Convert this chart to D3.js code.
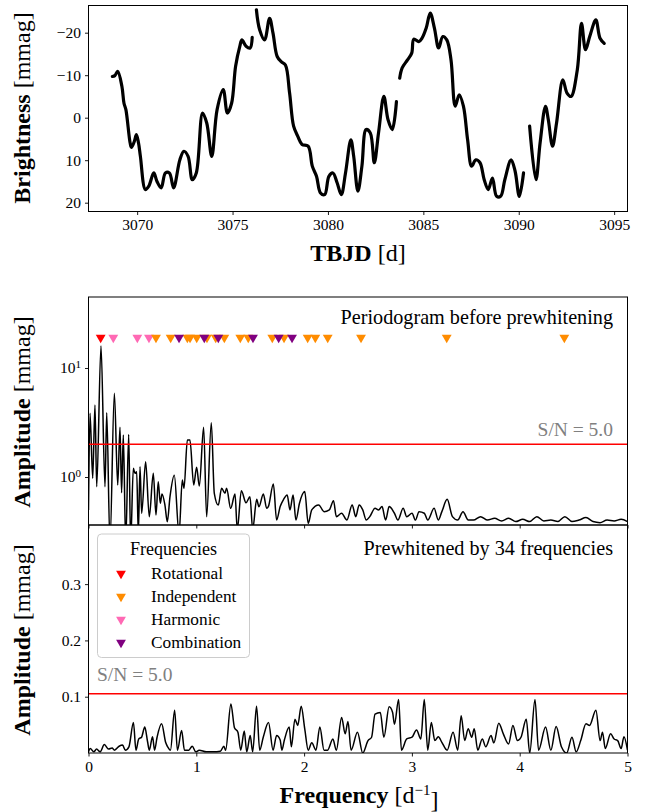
<!DOCTYPE html>
<html>
<head>
<meta charset="utf-8">
<script src="https://cdn.jsdelivr.net/npm/d3@7"></script>
<style>
  html, body { margin: 0; padding: 0; background: #fff; }
  svg { display: block; }
  text { font-family: "Liberation Serif", "Times New Roman", serif; }
</style>
</head>
<body>
<svg id="fig" width="646" height="812"></svg>
<script>
// ---- Light curve (TESS brightness in mmag, inverted axis) ----
const lcTime = [3068.70,3068.83,3068.98,3069.20,3069.31,3069.41,3069.63,3069.70,3069.85,3069.96,3070.07,3070.17,3070.43,3070.61,3070.87,3071.04,3071.26,3071.48,3071.69,3071.91,3072.24,3072.45,3072.67,3072.89,3073.10,3073.43,3073.65,3073.91,3074.19,3074.51,3074.73,3074.95,3075.16,3075.38,3075.49,3075.71,3075.92,3076.03,
  3076.25,3076.42,3076.68,3076.94,3077.12,3077.34,3077.55,3077.77,3077.99,3078.20,3078.42,3078.64,3078.96,3079.18,3079.40,3079.61,3079.83,3080.05,3080.26,3080.48,3080.70,3080.92,3081.20,3081.35,3081.57,3081.78,3082.00,3082.22,3082.43,3082.65,3082.93,3083.15,3083.37,3083.59,
  3083.76,3083.89,3084.17,3084.39,3084.50,3084.76,3084.93,3085.15,3085.36,3085.58,3085.80,3086.02,3086.23,3086.45,3086.67,3086.88,3087.10,3087.32,3087.53,3087.75,3087.97,3088.19,3088.40,3088.62,3088.84,3089.05,3089.27,3089.60,3089.81,3090.03,3090.25,
  3090.57,3090.90,3091.12,3091.40,3091.55,3091.77,3091.98,3092.31,3092.53,3092.74,3093.07,3093.29,3093.50,3093.72,3094.04,3094.26,3094.48];
const lcBrightness = [-9.7,-9.9,-10.9,-7.4,-3.4,-1.9,5.9,7.0,5.6,4.0,5.9,9.1,16.9,16.1,13.0,15.0,16.5,13.0,13.0,16.5,9.9,7.9,9.1,14.6,13.0,-1.1,1.3,9.1,-1.9,-6.6,-1.1,-3.4,-12.1,-16.8,-18.3,-16.8,-16.4,-18.9,
  -25.4,-20.7,-18.3,-23.4,-19.9,-14.4,-13.2,-12.4,-5.8,2.0,4.4,6.3,6.7,11.4,13.8,17.7,18.1,13.8,13.0,15.3,18.1,13.0,5.2,9.1,17.3,11.4,2.8,3.6,10.6,3.6,-5.0,0.5,2.8,-3.8,
  -9.3,-11.7,-13.6,-15.2,-18.5,-17.9,-18.7,-21.1,-24.6,-21.1,-16.4,-19.1,-18.3,-13.6,-2.7,-5.4,-2.7,5.2,11.4,9.9,10.6,14.6,16.9,14.2,18.5,18.5,14.6,9.9,12.6,18.5,13.0,
  2.0,14.6,5.9,-2.7,0.5,6.7,1.3,-8.9,-5.8,-5.0,-11.3,-22.2,-16.0,-19.1,-23.0,-18.7,-17.5];
// first time stamp of each continuous stretch of data
const lcSegmentStarts = [3068.70, 3076.25, 3083.76, 3090.57];
const lcTicksX = [3070, 3075, 3080, 3085, 3090, 3095];
const lcTicksY = [-20, -10, 0, 10, 20];

// ---- Amplitude spectrum before prewhitening (mmag) ----
const psFreq = [0.000,0.014,0.039,0.060,0.076,0.116,0.153,0.169,0.199,0.240,0.271,0.292,0.307,0.323,0.345,0.373,0.391,0.416,0.431,0.447,0.462,0.478,0.493,0.530,0.564,0.601,0.626,0.647,0.666,0.682,0.709,0.731,0.756,0.796,0.840,0.870,0.886,0.917,0.941,0.976,1.003,1.028,1.068,1.096,1.139,1.167,1.204,1.235,1.266,1.281,1.319,1.359,1.380,1.418,1.461,1.498,1.523,1.560,1.581,1.622,1.653,1.668,1.715,1.745,
  1.778,1.810,1.843,1.869,1.898,1.924,1.957,2.006,2.038,2.071,2.136,2.185,2.234,2.273,2.299,2.348,2.397,2.446,2.479,2.511,2.544,2.577,2.609,2.658,2.691,2.723,2.756,2.789,2.838,2.870,2.919,2.952,3.001,3.033,3.066,3.115,3.147,3.206,3.245,3.278,3.327,3.376,3.425,3.474,3.523,3.571,3.637,3.702,3.767,3.832,3.898,3.963,4.028,4.093,4.159,4.224,4.289,4.354,4.419,4.485,4.550,4.615,4.680,4.745,4.811,4.876,4.941,5.000];
const psAmp = [0.498,3.84,0.973,4.58,0.815,15.9,0.815,3.89,0.25,5.86,0.845,2.86,0.718,2.43,0.25,2.46,0.25,1.20,1.08,1.12,0.30,1.24,0.465,1.38,0.432,1.08,0.448,0.906,0.574,0.698,0.553,0.389,0.66,1.04,0.30,0.939,0.788,2.18,2.18,0.845,1.23,0.827,2.86,0.432,3.15,0.709,0.553,0.788,0.709,0.788,0.516,0.698,0.33,0.749,0.581,0.66,0.33,0.624,0.534,0.698,0.516,0.534,0.862,0.403,
  0.535,0.624,0.685,0.499,0.685,0.403,0.574,0.735,0.376,0.499,0.555,0.481,0.499,0.607,0.433,0.465,0.403,0.555,0.433,0.555,0.499,0.403,0.433,0.516,0.499,0.535,0.403,0.535,0.465,0.403,0.516,0.433,0.465,0.403,0.481,0.465,0.403,0.516,0.403,0.481,0.624,0.433,0.403,0.481,0.403,0.403,0.433,0.403,0.418,0.395,0.418,0.390,0.409,0.390,0.433,0.395,0.403,0.390,0.433,0.390,0.403,0.424,0.390,0.381,0.403,0.395,0.409,0.390];
const snLimitBefore = 2.0;

// ---- Amplitude spectrum after prewhitening with 34 frequencies (mmag) ----
const pwFreq = [0.000,0.016,0.049,0.075,0.108,0.147,0.186,0.219,0.241,0.284,0.316,0.342,0.375,0.417,0.440,0.466,0.492,0.522,0.548,0.564,0.594,0.613,0.636,0.678,0.717,0.734,0.760,0.799,0.825,0.864,0.890,0.930,0.962,0.995,1.027,1.093,1.158,1.223,1.256,1.272,1.321,1.354,1.386,1.412,1.445,1.468,1.500,1.523,1.559,1.588,1.621,1.670,1.712,1.745,1.778,1.794,1.817,1.862,1.882,1.915,1.941,1.973,2.006,2.038,2.071,2.110,2.146,2.185,2.218,2.267,2.299,2.348,2.381,2.407,2.436,2.495,2.544,2.593,2.626,2.658,2.707,2.740,2.789,2.821,2.838,2.877,2.903,2.952,3.001,3.043,3.083,3.115,3.147,3.180,3.213,3.245,3.278,3.327,3.382,3.425,3.457,3.490,3.522,3.555,3.578,3.611,3.653,3.685,3.734,3.760,3.806,3.848,3.897,3.937,3.979,4.012,4.061,4.093,4.142,4.175,4.240,4.289,4.338,4.387,4.436,4.485,4.524,4.566,4.615,4.648,4.707,4.746,4.768,4.794,4.843,4.876,4.909,4.941,4.967,5.000];
const pwAmp = [0.002,0.008,0.002,0.007,0.002,0.015,0.007,0.009,0.005,0.012,0.014,0.005,0.011,0.054,0.005,0.025,0.028,0.046,0.020,0.005,0.029,0.005,0.028,0.052,0.018,0.011,0.005,0.076,0.005,0.040,0.005,0.005,0.012,0.002,0.005,0.002,0.002,0.003,0.012,0.005,0.087,0.045,0.037,0.005,0.039,0.002,0.031,0.002,0.083,0.005,0.028,0.054,0.005,0.031,0.023,0.005,0.023,0.046,0.011,0.060,0.049,0.083,0.043,0.005,0.018,0.005,0.046,0.005,0.005,0.025,0.005,0.063,0.034,0.056,0.005,0.037,0.000,0.022,0.028,0.069,0.072,0.028,0.082,0.072,0.051,0.095,0.005,0.025,0.028,0.041,0.025,0.095,0.005,0.054,0.022,0.029,0.019,0.005,0.037,0.005,0.066,0.022,0.043,0.028,0.043,0.005,0.025,0.011,0.031,0.018,0.053,0.034,0.016,0.049,0.022,0.028,0.060,0.000,0.095,0.005,0.046,0.005,0.047,0.011,0.000,0.028,0.002,0.022,0.052,0.049,0.076,0.022,0.037,0.008,0.034,0.025,0.022,0.008,0.029,0.005];
const snLimitAfter = 0.1053;

// ---- Extracted frequencies (d^-1) by type ----
const freqRotational = [0.113];
const freqHarmonic = [0.230, 0.453, 0.561];
const freqIndependent = [0.626,0.762,0.917,0.942,1.004,1.099,1.180,1.260,1.408,1.482,1.705,1.814,2.033,2.104,2.219,2.528,3.323,4.414];
const freqCombination = [0.840,1.074,1.204,1.526,1.764,1.888];
const markerAmp = 19;

const typeNames = ["Rotational", "Independent", "Harmonic", "Combination"];
const typeColors = ["#ff0000", "#ff8c00", "#ff69b4", "#800080"];

const freqTicks = [0, 1, 2, 3, 4, 5];
const logTicks = [1, 10];
const linTicks = [0.1, 0.2, 0.3];

// ---------------------------------------------------------------
const svg = d3.select("#fig");
const L = 88.5, R = 627.5;
const tickFont = "15.5px";
const labelFont = "24px";

function styleAxis(g) {
  g.selectAll(".domain").remove();
  g.selectAll(".tick line").attr("stroke", "#000").attr("stroke-width", 0.9);
  g.selectAll(".tick text").attr("font-size", tickFont).attr("fill", "#000")
    .attr("font-family", "Liberation Serif, serif");
}
function frame(y0, y1) {
  svg.append("rect").attr("x", L).attr("y", y0).attr("width", R - L).attr("height", y1 - y0)
    .attr("fill", "none").attr("stroke", "#000").attr("stroke-width", 1);
}
function ylabel(cy, word, unit) {
  const t = svg.append("text").attr("transform", `translate(30,${cy}) rotate(-90)`)
    .attr("text-anchor", "middle").attr("font-size", labelFont);
  t.append("tspan").attr("font-weight", "bold").text(word);
  t.append("tspan").text(" " + unit);
}

// ===== Top panel: light curve =====
const top0 = 5.5, top1 = 211.5;
const xT = d3.scaleLinear().domain([3067.45, 3095.70]).range([L, R]);
const yT = d3.scaleLinear().domain([-26.4, 22.07]).range([top0, top1]);

svg.append("g").attr("transform", `translate(0,${top1})`)
  .call(d3.axisBottom(xT).tickValues(lcTicksX).tickSize(3.5).tickPadding(4).tickFormat(d3.format("d")))
  .call(styleAxis);
svg.append("g").attr("transform", `translate(${L},0)`)
  .call(d3.axisLeft(yT).tickValues(lcTicksY).tickSize(3.5).tickPadding(4)
    .tickFormat(d => d < 0 ? "\u2212" + Math.abs(d) : String(d)))
  .call(styleAxis);

const lcPoints = lcTime.map((t, i) => ({ t, v: lcBrightness[i] }));
const lcSegments = lcSegmentStarts.map((s, k) => {
  const e = k + 1 < lcSegmentStarts.length ? lcSegmentStarts[k + 1] : Infinity;
  return lcPoints.filter(p => p.t >= s && p.t < e);
});
const lcLine = d3.line().x(p => xT(p.t)).y(p => yT(p.v)).curve(d3.curveCatmullRom.alpha(0.5));
svg.append("g").selectAll("path").data(lcSegments).join("path")
  .attr("d", lcLine).attr("fill", "none").attr("stroke", "#000")
  .attr("stroke-width", 3.2).attr("stroke-linejoin", "round").attr("stroke-linecap", "round");
frame(top0, top1);
ylabel(108, "Brightness", "[mmag]");
{
  const t = svg.append("text").attr("x", (L + R) / 2).attr("y", 261).attr("text-anchor", "middle")
    .attr("font-size", labelFont);
  t.append("tspan").attr("font-weight", "bold").text("TBJD");
  t.append("tspan").text(" [d]");
}

// ===== Middle panel: periodogram before prewhitening =====
const mid0 = 297, mid1 = 525;
const xF = d3.scaleLinear().domain([0, 5]).range([L, R]);
const yM = d3.scaleLog().domain([0.3628, 44.8]).range([mid1, mid0]);

svg.append("defs").append("clipPath").attr("id", "clipMid")
  .append("rect").attr("x", L).attr("y", mid0).attr("width", R - L).attr("height", mid1 - mid0);
svg.select("defs").append("clipPath").attr("id", "clipLow")
  .append("rect").attr("x", L).attr("y", mid1).attr("width", R - L).attr("height", 753 - mid1);

const gMidY = svg.append("g").attr("transform", `translate(${L},0)`)
  .call(d3.axisLeft(yM).tickValues(logTicks).tickSize(3.5).tickPadding(4).tickFormat(() => "10"))
  .call(styleAxis);
gMidY.selectAll(".tick text").each(function (d) {
  d3.select(this).append("tspan").attr("dy", "-0.5em").attr("font-size", "11px")
    .text(Math.round(Math.log10(d)));
});
svg.append("g").attr("transform", `translate(0,${mid1})`)
  .call(d3.axisBottom(xF).tickValues(freqTicks).tickSize(3.5).tickFormat(""))
  .call(styleAxis);

const psLine = d3.line().x((d, i) => xF(psFreq[i])).y(d => yM(d)).curve(d3.curveMonotoneX);
svg.append("path").attr("clip-path", "url(#clipMid)").datum(psAmp)
  .attr("d", psLine).attr("fill", "none").attr("stroke", "#000").attr("stroke-width", 1.5)
  .attr("stroke-linejoin", "round");
svg.append("line").attr("x1", L).attr("x2", R).attr("y1", yM(snLimitBefore)).attr("y2", yM(snLimitBefore))
  .attr("stroke", "#ff0000").attr("stroke-width", 1.6);

const tri = d3.symbol().type(d3.symbolTriangle).size(42);
const markerSets = [
  { f: freqRotational, c: typeColors[0] },
  { f: freqHarmonic, c: typeColors[2] },
  { f: freqIndependent, c: typeColors[1] },
  { f: freqCombination, c: typeColors[3] }
];
const gMarks = svg.append("g");
markerSets.forEach(s => {
  gMarks.selectAll(null).data(s.f).join("path")
    .attr("d", tri).attr("fill", s.c)
    .attr("transform", f => `translate(${xF(f)},${yM(markerAmp)}) rotate(180)`);
});

svg.append("text").attr("x", 613).attr("y", 324).attr("text-anchor", "end")
  .attr("font-size", "20.2px").text("Periodogram before prewhitening");
svg.append("text").attr("x", 613).attr("y", 436).attr("text-anchor", "end")
  .attr("font-size", "19.5px").attr("fill", "#808080").text("S/N = 5.0");
frame(mid0, mid1);
ylabel(412, "Amplitude", "[mmag]");

// ===== Lower panel: residual periodogram =====
const low0 = 525, low1 = 753;
const yL = d3.scaleLinear().domain([0, 0.405]).range([low1, low0]);
svg.append("g").attr("transform", `translate(${L},0)`)
  .call(d3.axisLeft(yL).tickValues(linTicks).tickSize(3.5).tickPadding(4).tickFormat(d3.format(".1f")))
  .call(styleAxis);
svg.append("g").attr("transform", `translate(0,${low1})`)
  .call(d3.axisBottom(xF).tickValues(freqTicks).tickSize(3.5).tickPadding(4).tickFormat(d3.format("d")))
  .call(styleAxis);

const pwLine = d3.line().x((d, i) => xF(pwFreq[i])).y(d => yL(d)).curve(d3.curveMonotoneX);
svg.append("path").attr("clip-path", "url(#clipLow)").datum(pwAmp)
  .attr("d", pwLine).attr("fill", "none").attr("stroke", "#000").attr("stroke-width", 1.5)
  .attr("stroke-linejoin", "round");
svg.append("line").attr("x1", L).attr("x2", R).attr("y1", yL(snLimitAfter)).attr("y2", yL(snLimitAfter))
  .attr("stroke", "#ff0000").attr("stroke-width", 1.6);
svg.append("text").attr("x", 97).attr("y", 681).attr("text-anchor", "start")
  .attr("font-size", "19.5px").attr("fill", "#808080").text("S/N = 5.0");
svg.append("text").attr("x", 613).attr("y", 555).attr("text-anchor", "end")
  .attr("font-size", "20.2px").text("Prewhitened by 34 frequencies");

// legend
const lg = svg.append("g");
lg.append("rect").attr("x", 97.5).attr("y", 534).attr("width", 152).attr("height", 123.5).attr("rx", 4)
  .attr("fill", "#fff").attr("fill-opacity", 0.8).attr("stroke", "#cccccc").attr("stroke-width", 1);
lg.append("text").attr("x", 173.5).attr("y", 555).attr("text-anchor", "middle").attr("font-size", "18px")
  .text("Frequencies");
const rows = lg.selectAll("g.row").data(typeNames).join("g").attr("class", "row")
  .attr("transform", (d, i) => `translate(0,${573.5 + i * 23})`);
rows.append("path").attr("d", tri).attr("fill", (d, i) => typeColors[i])
  .attr("transform", "translate(121,0) rotate(180)");
rows.append("text").attr("x", 151).attr("y", 5.5).attr("font-size", "17.3px").text(d => d);

frame(low0, low1);
ylabel(640, "Amplitude", "[mmag]");
{
  const t = svg.append("text").attr("x", (L + R) / 2 + 1).attr("y", 803).attr("text-anchor", "middle")
    .attr("font-size", labelFont);
  t.append("tspan").attr("font-weight", "bold").text("Frequency");
  t.append("tspan").text(" [d");
  t.append("tspan").attr("dy", "-0.55em").attr("font-size", "15px").text("\u22121");
  t.append("tspan").attr("dy", "0.55em").text("]");
}
</script>
</body>
</html>
